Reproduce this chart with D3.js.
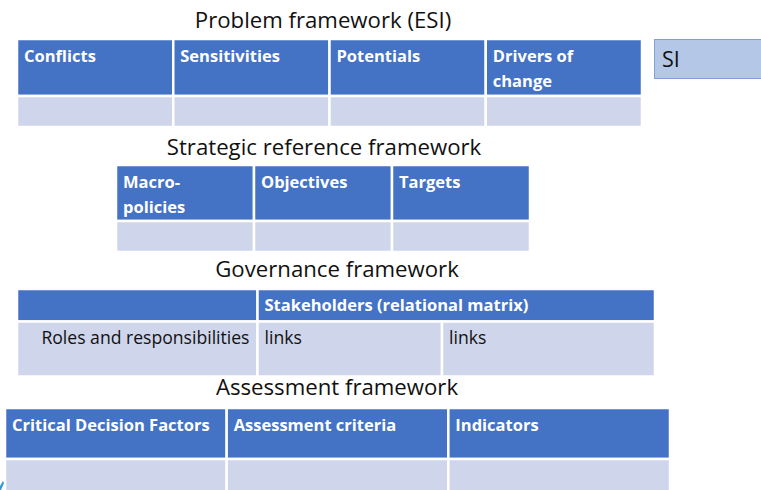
<!DOCTYPE html>
<html><head><meta charset="utf-8">
<script src="https://cdn.jsdelivr.net/npm/d3@7"></script>
<style>
html,body{margin:0;padding:0;background:#fff;overflow:hidden}
svg{display:block}
text{font-family:"Open Sans","Noto Sans",sans-serif}
</style></head>
<body>
<svg id="c" width="761" height="490"></svg>
<script>
// ---- data ----
const titles = ["Problem framework (ESI)", "Strategic reference framework", "Governance framework", "Assessment framework"];
const problemHeaders = [["Conflicts"], ["Sensitivities"], ["Potentials"], ["Drivers of", "change"]];
const strategicHeaders = [["Macro-", "policies"], ["Objectives"], ["Targets"]];
const governanceHeader = ["Stakeholders (relational matrix)"];
const governanceRow = ["Roles and responsibilities", "links", "links"];
const assessmentHeaders = [["Critical Decision Factors"], ["Assessment criteria"], ["Indicators"]];
const sideLabel = "SI";

// ---- styles ----
const HEAD = "#4472C4", BODY = "#CFD5EA", GAP = "#ffffff";
const svg = d3.select("#c");

function title(txt, cx, y) {
  svg.append("text").attr("x", cx).attr("y", y).attr("text-anchor", "middle")
    .attr("font-size", 22.2).attr("fill", "#111").text(txt);
}

function table(cfg) {
  const n = cfg.headers.length;
  const x = d3.scaleBand().domain(d3.range(n)).range([cfg.x0, cfg.x1]).paddingInner(0);
  const g = svg.append("g");
  g.selectAll("rect.h").data(cfg.headers).join("rect")
    .attr("x", (d, i) => x(i)).attr("y", cfg.y0)
    .attr("width", x.bandwidth()).attr("height", cfg.hh)
    .attr("fill", HEAD).attr("stroke", GAP).attr("stroke-width", 2.5);
  g.selectAll("rect.b").data(cfg.headers).join("rect")
    .attr("x", (d, i) => x(i)).attr("y", cfg.y0 + cfg.hh)
    .attr("width", x.bandwidth()).attr("height", cfg.bh)
    .attr("fill", BODY).attr("stroke", GAP).attr("stroke-width", 2.5);
  cfg.headers.forEach((lines, i) => {
    const t = g.append("text").attr("x", x(i) + 7).attr("y", cfg.y0 + 22.5)
      .attr("font-size", 16.5).attr("font-weight", 700).attr("fill", "#fff");
    lines.forEach((l, k) => t.append("tspan").attr("x", x(i) + 7).attr("dy", k ? 25 : 0).text(l));
  });
  return x;
}

title(titles[0], 323, 28);
table({x0: 17, x1: 642, y0: 39, hh: 57, bh: 31, headers: problemHeaders});

// SI box
svg.append("rect").attr("x", 654.5).attr("y", 39.5).attr("width", 120).attr("height", 39)
  .attr("fill", "#B4C7E7").attr("stroke", "#7F9FD6").attr("stroke-width", 1);
svg.append("text").attr("x", 662).attr("y", 67).attr("font-size", 21.5).attr("fill", "#111").text(sideLabel);

title(titles[1], 324, 155);
table({x0: 116, x1: 530, y0: 165, hh: 56, bh: 31, headers: strategicHeaders});

// Governance table
title(titles[2], 337, 277);
{
  const cols = d3.scaleLinear().domain([0, 1, 2, 3]).range([17, 257.5, 442, 655]);
  const y0 = 289, hh = 32.5, bh = 55;
  const heads = [{a: 0, b: 1, t: ""}, {a: 1, b: 3, t: governanceHeader[0]}];
  svg.selectAll("rect.gh").data(heads).join("rect")
    .attr("x", d => cols(d.a)).attr("y", y0)
    .attr("width", d => cols(d.b) - cols(d.a)).attr("height", hh)
    .attr("fill", HEAD).attr("stroke", GAP).attr("stroke-width", 2.5);
  svg.selectAll("text.gh").data(heads).join("text")
    .attr("x", d => cols(d.a) + 7).attr("y", y0 + 22)
    .attr("font-size", 16.5).attr("font-weight", 700).attr("fill", "#fff").text(d => d.t);
  svg.selectAll("rect.gb").data(governanceRow).join("rect")
    .attr("x", (d, i) => cols(i)).attr("y", y0 + hh)
    .attr("width", (d, i) => cols(i + 1) - cols(i)).attr("height", bh)
    .attr("fill", BODY).attr("stroke", GAP).attr("stroke-width", 2.5);
  svg.selectAll("text.gb").data(governanceRow).join("text")
    .attr("x", (d, i) => i === 0 ? cols(1) - 8 : cols(i) + 7)
    .attr("text-anchor", (d, i) => i === 0 ? "end" : "start")
    .attr("y", y0 + hh + 22)
    .attr("font-size", 17.6).attr("fill", "#111").text(d => d);
}

title(titles[3], 337, 395);
table({x0: 5, x1: 670, y0: 408, hh: 51, bh: 40, headers: assessmentHeaders});

// small corner mark
svg.append("path").attr("d", "M0,486 L3,481 L4,483 L1,490 L0,490 Z").attr("fill", "#2E9BD6");
</script>
</body></html>
